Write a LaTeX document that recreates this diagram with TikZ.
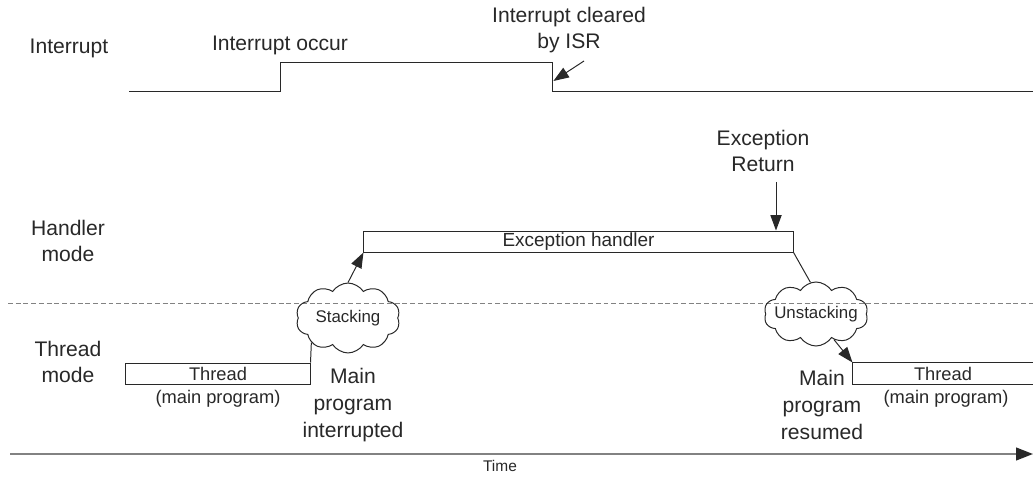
\documentclass[tikz,border=0pt]{standalone}
\usepackage{fontspec}
\setmainfont{Liberation Sans}
\usepackage{tikz}
\usetikzlibrary{arrows.meta, positioning, calc, shapes.symbols}
\usepackage{xcolor}
\definecolor{ink}{RGB}{40,40,40}
\definecolor{axisgray}{RGB}{130,130,130}

\begin{document}
\begin{tikzpicture}[x=0.025cm, y=-0.025cm, line width=0.7pt, draw=ink, text=ink,
  lbl/.style={align=center, inner sep=0pt, font=\fontsize{15}{19}\selectfont},
  boxtxt/.style={inner sep=0pt, font=\fontsize{13}{16}\selectfont},
  modebox/.style={draw, inner sep=0pt, minimum height=0.525cm},
  puff/.style={draw, cloud, cloud puffs=10, cloud puff arc=115, aspect=1.6, inner sep=0pt,
    minimum width=2.6cm, minimum height=1.6cm, font=\fontsize{12}{14}\selectfont},
  tip/.style={-{Triangle[length=11pt, width=8pt]}}]
  \useasboundingbox (0,0) rectangle (1033,478);

  % row labels
  \node[lbl] (intlbl) at (69,48) {Interrupt};
  \node[lbl] (hdllbl) at (68,241) {Handler\\mode};
  \node[lbl] (thdlbl) at (68,362) {Thread\\mode};

  % interrupt signal
  \coordinate (s0) at (129,91);
  \coordinate (rise) at (280,62);
  \coordinate (fall) at (552,62);
  \coordinate (s1) at (1033,91);
  \draw (s0) -- (rise |- s0) -- (rise) -- (fall) -- (fall |- s1) -- (s1);
  \node[lbl] (occur) at (280,45) {Interrupt occur};
  \node[lbl] (clear) at (569,30) {Interrupt cleared\\by ISR};
  \coordinate (clr) at (584,61);
  \draw[tip] (clr) -- ([xshift=1pt]fall |- 0,81);

  % handler mode
  \node[modebox, minimum width=10.725cm, boxtxt, font=\fontsize{13.5}{16}\selectfont] (eh) at (578.5,241.5) {Exception handler};
  \node[lbl] (exret) at (763,151) {Exception\\Return};
  \coordinate (ret) at (776,182);
  \draw[tip] (ret) -- (ret |- eh.north);

  % mode boundary
  \draw[axisgray, line width=0.6pt, dash pattern=on 3.5pt off 2pt] (8,303) -- (1033,303);

  % thread mode
  \node[modebox, minimum width=4.6cm, boxtxt] (th1) at (218,373.5) {Thread};
  \node[boxtxt] (th1sub) at (218,399) {(main program)};
  \node[boxtxt, minimum width=4.5cm, minimum height=0.525cm] (th2) at (943,373.5) {Thread};
  \draw (th2.north east) -- (th2.north west) -- (th2.south west) -- (th2.south east);
  \node[boxtxt] (th2sub) at (946,399) {(main program)};

  % stacking / unstacking
  \node[puff] (stk) at (348,318) {Stacking};
  \node[puff, inner xsep=-9pt, inner ysep=-2pt] (ustk) at (816,314) {Unstacking};
  \draw (th1.north east) -- (stk.south west);
  \draw[tip] (stk.north) -- (eh.south west);
  \draw (eh.south east) -- (ustk.100);
  \draw[tip] (ustk.305) -- (th2.north west);

  \node[lbl] (intr) at (353,405) {Main\\program\\interrupted};
  \node[lbl] (resm) at (822,405) {Main\\program\\resumed};

  % time axis
  \coordinate (t0) at (10,454);
  \coordinate (t1) at (1033,454);
  \draw[axisgray, line width=1.4pt, -{Triangle[length=12pt, width=9pt, color=ink]}] (t0) -- (t1);
  \node[boxtxt, font=\fontsize{11}{13}\selectfont] (time) at (500,466) {Time};
\end{tikzpicture}
\end{document}
